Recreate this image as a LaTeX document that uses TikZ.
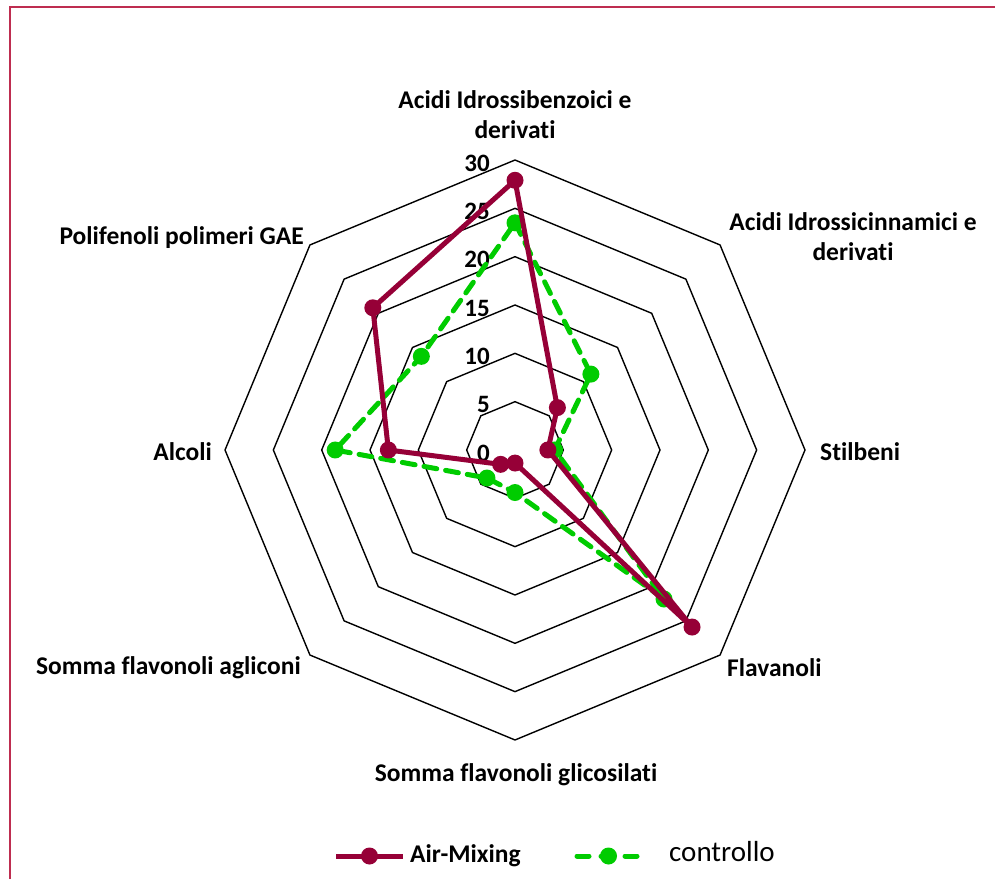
\documentclass[tikz,border=0pt]{standalone}
\usepackage{fontspec}
\setmainfont{Carlito}[Ligatures=NoCommon]
\usepackage{tikz}
\usetikzlibrary{calc}
\definecolor{airmix}{RGB}{150,0,55}
\definecolor{ctrl}{RGB}{0,204,0}
\definecolor{cornice}{RGB}{190,45,80}
\tikzset{
  ring/.style={black,line width=1.4pt},
  catlabel/.style={font=\fontsize{25.5}{30}\selectfont\bfseries,align=center,inner sep=0pt},
  ticklabel/.style={font=\fontsize{25}{28}\selectfont\bfseries,anchor=east,inner sep=0pt},
  airline/.style={airmix,line width=5pt,line join=round},
  ctrlline/.style={ctrl,line width=5pt,dash pattern=on 13pt off 9pt,line cap=round,line join=round},
  airdot/.style={circle,fill=airmix,inner sep=0pt,minimum size=17pt},
  ctrldot/.style={circle,fill=ctrl,inner sep=0pt,minimum size=17pt}
}
\begin{document}
\begin{tikzpicture}[x=1pt,y=1pt]
  \useasboundingbox (0,0) rectangle (995,879);
  \fill[white] (0,0) rectangle (995,879);
  % cornice
  \draw[cornice,line width=2pt] (9.5,0) -- (9.5,872) -- (995,872);
  \begin{scope}[shift={(515,429)}]
    % anelli
    \foreach \k in {1,...,6}{
      \draw[ring] (90:48.33*\k) \foreach \a in {45,0,...,-225}{ -- (\a:48.33*\k)} -- cycle;
    }
    \foreach \k in {0,...,6}{
      \pgfmathtruncatemacro{\v}{5*\k}
      \node[ticklabel] (t\k) at (-25,48.33*\k-3) {\v};
    }
    % Air-Mixing
    \foreach \r [count=\i] in {27.9,6.2,3.4,25.9,1.35,2.1,13.1,20.8}{
      \coordinate (a\i) at ({135-45*\i}:9.667*\r);
    }
    % controllo
    \foreach \r [count=\i] in {23.5,11.1,4.1,21.8,4.4,4.1,18.6,13.7}{
      \coordinate (c\i) at ({135-45*\i}:9.667*\r);
    }
  \end{scope}
  \draw[ctrlline] (c1) -- (c2) -- (c3) -- (c4) -- (c5) -- (c6) -- (c7) -- (c8) -- cycle;
  \foreach \i in {1,...,8}{\node[ctrldot] (cd\i) at (c\i) {};}
  \draw[airline] (a1) -- (a2) -- (a3) -- (a4) -- (a5) -- (a6) -- (a7) -- (a8) -- cycle;
  \foreach \i in {1,...,8}{\node[airdot] (ad\i) at (a\i) {};}
  % etichette
  \node[catlabel] (l1) at (515,764) {Acidi Idrossibenzoici e\\derivati};
  \node[catlabel] (l2) at (853,642) {Acidi Idrossicinnamici e\\derivati};
  \node[catlabel,anchor=west] (l3) at (820,427) {Stilbeni};
  \node[catlabel,anchor=west] (l4) at (727,211) {Flavanoli};
  \node[catlabel] (l5) at (516,104) {Somma flavonoli glicosilati};
  \node[catlabel,anchor=east] (l6) at (301,211) {Somma flavonoli agliconi};
  \node[catlabel,anchor=east] (l7) at (212,427) {Alcoli};
  \node[catlabel,anchor=east] (l8) at (304,641) {Polifenoli polimeri GAE};
  % legenda
  \coordinate (la1) at (336,23);
  \coordinate (la2) at (403,23);
  \draw[airline] (la1) -- (la2);
  \node[airdot] (lad) at ($(la1)!0.5!(la2)$) {};
  \node[catlabel,anchor=west] (lat) at (410,23) {Air-Mixing};
  \coordinate (lc1) at (577,23);
  \coordinate (lc2) at (640,23);
  \draw[ctrlline,dash pattern=on 12pt off 12pt] (lc1) -- (lc2);
  \node[ctrldot] (lcd) at ($(lc1)!0.5!(lc2)$) {};
  \node[font=\fontsize{29}{32}\selectfont,anchor=west,inner sep=0pt] (lct) at (669,27) {controllo};
\end{tikzpicture}
\end{document}
